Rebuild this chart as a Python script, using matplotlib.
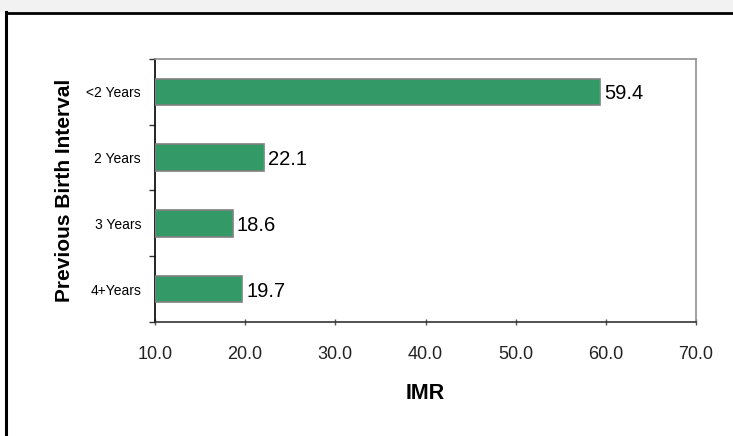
import matplotlib
matplotlib.use("Agg")
import matplotlib.pyplot as plt
from matplotlib.lines import Line2D
from matplotlib.patches import Rectangle

plt.rcParams["font.family"] = ["Liberation Sans", "DejaVu Sans"]

# ---- data ----
intervals = ["<2 Years", "2 Years", "3 Years", "4+Years"]
imr = [59.4, 22.1, 18.6, 19.7]
x_ticks = [10.0, 20.0, 30.0, 40.0, 50.0, 60.0, 70.0]

fig = plt.figure(figsize=(7.33, 4.36), dpi=100)
fig.patch.set_facecolor("white")

# slide frame: grey strip at top, black rules
fig.add_artist(Rectangle((0, 1 - 12 / 436), 1, 12 / 436, transform=fig.transFigure,
                         facecolor="#f2f2f2", edgecolor="none"))
fig.add_artist(Line2D([6 / 733, 1], [1 - 13 / 436] * 2, transform=fig.transFigure,
                      color="black", lw=2))
fig.add_artist(Line2D([6 / 733] * 2, [0, 1 - 12 / 436], transform=fig.transFigure,
                      color="black", lw=2.2))

ax = fig.add_axes([155 / 733, 1 - 322 / 436, (696 - 155) / 733, (322 - 59) / 436])

pos = list(range(len(intervals)))[::-1]
x0 = x_ticks[0]
ax.barh(pos, [v - x0 for v in imr], left=x0, height=0.4,
        color="#339966", edgecolor="#808080", linewidth=1.2, zorder=3)
for p, v in zip(pos, imr):
    ax.text(v + 0.4, p, f"{v:.1f}", va="center_baseline", ha="left", fontsize=14.5)

ax.set_xlim(x_ticks[0], x_ticks[-1])
ax.set_ylim(-0.5, len(intervals) - 0.5)

ax.set_xticks(x_ticks)
ax.set_xticklabels([f"{t:.1f}" for t in x_ticks], fontsize=13, color="#222222")
ax.tick_params(axis="x", direction="inout", length=5, width=1, color="#555555", pad=15)

ax.set_yticks(pos)
ax.set_yticklabels(intervals, fontsize=10)
ax.tick_params(axis="y", which="major", length=0, pad=10)
ax.set_yticks([p + 0.5 for p in range(len(intervals))] + [-0.5], minor=True)
ax.tick_params(axis="y", which="minor", direction="out", length=4, width=1, color="#333333")

ax.spines["left"].set_color("black")
ax.spines["bottom"].set_color("#333333")
ax.spines["top"].set_color("#909090")
ax.spines["right"].set_color("#909090")
for s in ax.spines.values():
    s.set_linewidth(1.2)

ax.set_xlabel("IMR", fontsize=15.5, fontweight="bold", labelpad=14)
ax.set_ylabel("Previous Birth Interval", fontsize=15, fontweight="bold", labelpad=9)

fig.savefig("out.png", dpi=100)
